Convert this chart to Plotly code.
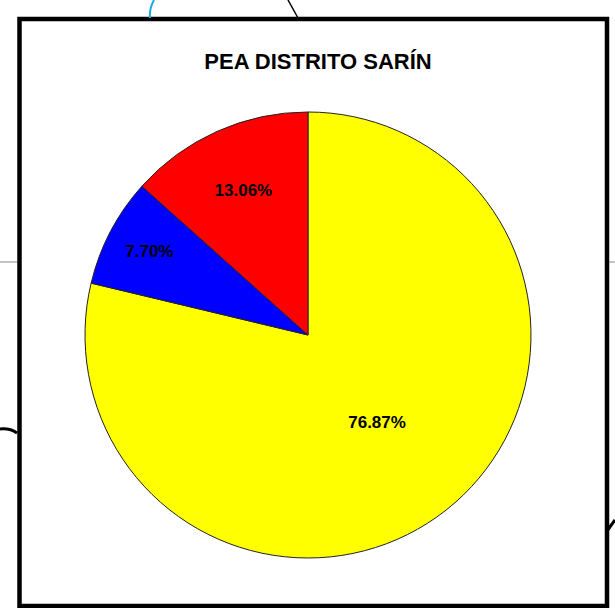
import plotly.graph_objects as go

W, H = 615, 608

categories = ["Categoría A", "Categoría C", "Categoría B"]
values = [76.87, 7.70, 13.06]
value_labels = ["76.87%", "7.70%", "13.06%"]
colors = ["#FFFF00", "#0000FF", "#FF0000"]
title_text = "PEA DISTRITO SARÍN"


def px(x):
    return x / W


def py(y):
    return 1 - y / H


fig = go.Figure()
fig.add_trace(go.Pie(
    labels=categories,
    values=values,
    text=value_labels,
    textinfo="text",
    textposition="inside",
    insidetextorientation="horizontal",
    textfont=dict(family="Liberation Sans, Arial", size=17, color="black", weight="bold"),
    marker=dict(colors=colors, line=dict(color="#222222", width=1)),
    sort=False,
    direction="clockwise",
    rotation=0,
    showlegend=False,
    hoverinfo="label+percent",
    domain=dict(x=[px(308 - 223), px(308 + 223)], y=[py(558), py(112)]),
))

shapes = []
# chart frame
shapes.append(dict(type="rect", xref="paper", yref="paper",
                   x0=px(19.5), x1=px(607), y0=py(606), y1=py(19),
                   line=dict(color="black", width=4.5), fillcolor="rgba(0,0,0,0)"))


def path(points, curve=False):
    pts = [f"{px(x):.5f},{py(y):.5f}" for x, y in points]
    if curve and len(pts) == 3:
        return f"M {pts[0]} Q {pts[1]} {pts[2]}"
    return "M " + " L ".join(pts)


# background artifacts from the surrounding page
shapes.append(dict(type="path", xref="paper", yref="paper",
                   path=path([(154, 0), (149, 9), (150, 18)], curve=True),
                   line=dict(color="#1CA7E8", width=2)))
shapes.append(dict(type="path", xref="paper", yref="paper",
                   path=path([(288, 0), (298, 18)]),
                   line=dict(color="black", width=1.5)))
shapes.append(dict(type="path", xref="paper", yref="paper",
                   path=path([(0, 262), (17, 262)]),
                   line=dict(color="#888888", width=1)))
shapes.append(dict(type="path", xref="paper", yref="paper",
                   path=path([(609, 262), (615, 262)]),
                   line=dict(color="#888888", width=1)))
shapes.append(dict(type="path", xref="paper", yref="paper",
                   path=path([(0, 429), (10, 428), (17, 433)], curve=True),
                   line=dict(color="black", width=3)))
shapes.append(dict(type="path", xref="paper", yref="paper",
                   path=path([(607, 531), (615, 520)]),
                   line=dict(color="black", width=3)))

fig.update_layout(
    width=W, height=H,
    margin=dict(l=0, r=0, t=0, b=0),
    paper_bgcolor="white",
    plot_bgcolor="white",
    shapes=shapes,
    title=dict(text=title_text, x=px(318), xanchor="center",
               y=py(61), yanchor="middle", yref="container",
               font=dict(family="Liberation Sans, Arial", size=22, color="black", weight="bold")),
)

fig.write_html("out.html",
               config={"displayModeBar": False},
               post_script="document.body.style.margin='0';document.body.style.overflow='hidden';")
